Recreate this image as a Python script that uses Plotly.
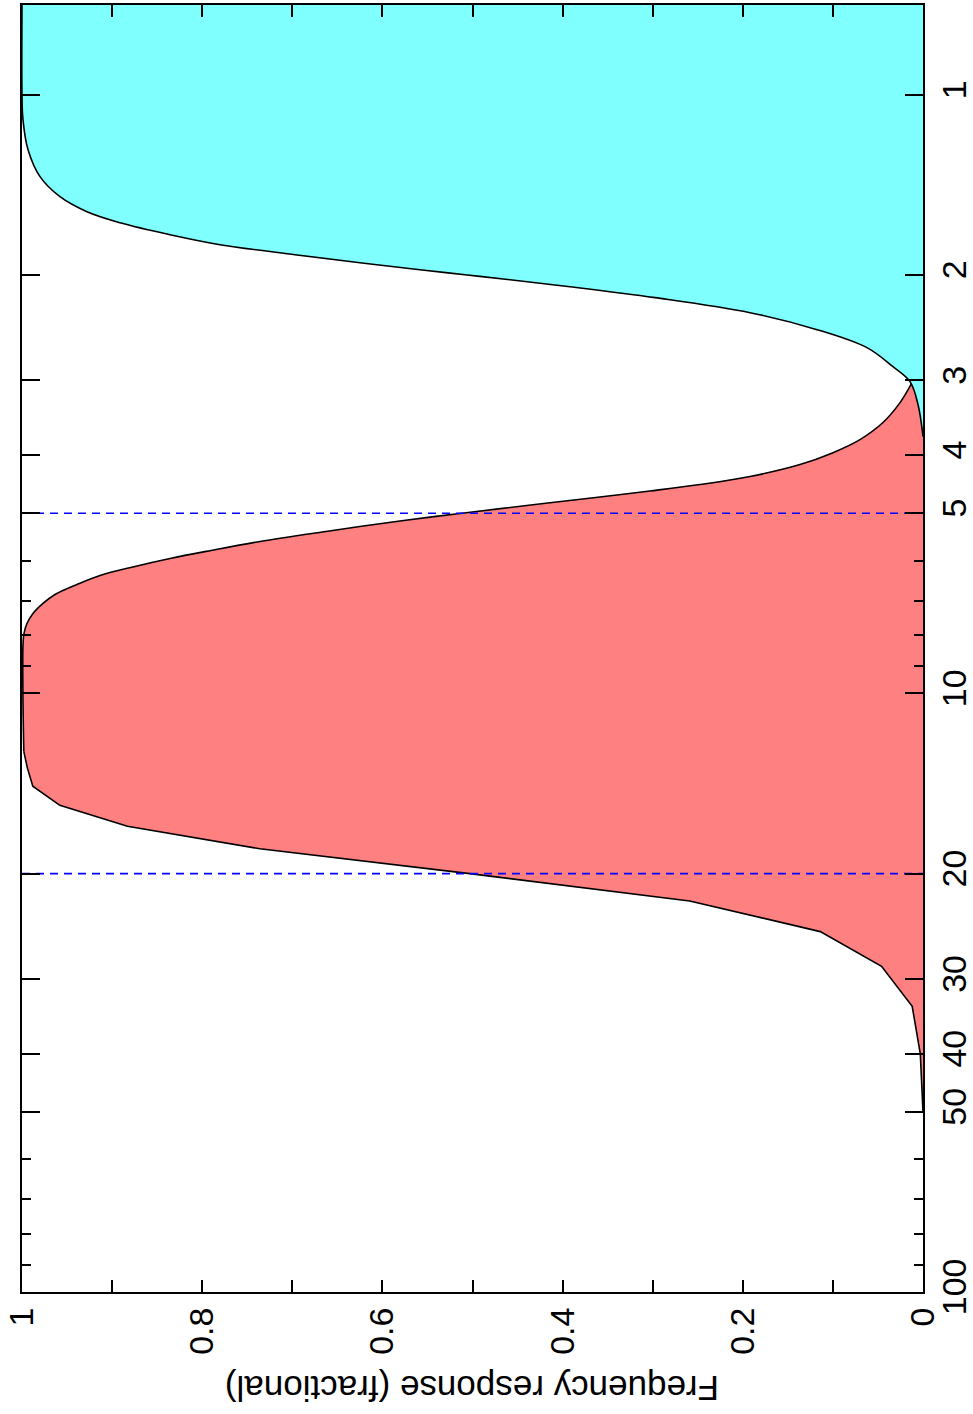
import plotly.graph_objects as go

# ---- data ----
period_ticks = [1, 2, 3, 4, 5, 10, 20, 30, 40, 50, 100]
period_tick_labels = ["1", "2", "3", "4", "5", "10", "20", "30", "40", "50", "100"]
period_minor_ticks = [6, 7, 8, 9, 60, 70, 80, 90]

resp_ticks = [0, 0.1, 0.2, 0.3, 0.4, 0.5, 0.6, 0.7, 0.8, 0.9, 1.0]
resp_tick_labels = ["0", "", "0.2", "", "0.4", "", "0.6", "", "0.8", "", "1"]

# high-pass (cyan) response vs period
highpass_period = [0.707, 1.0, 1.101, 1.235, 1.370, 1.480, 1.568, 1.636, 1.713, 1.780,
                   1.850, 1.908, 1.960, 1.998, 2.037, 2.092, 2.182, 2.312, 2.468, 2.645,
                   2.846, 3.014, 3.293, 3.724]
highpass_resp = [1.0, 1.0, 0.9989, 0.9933, 0.980, 0.9578, 0.9279, 0.8912, 0.8357, 0.7803,
                 0.697, 0.6249, 0.5583, 0.5083, 0.4584, 0.3918, 0.2974, 0.192, 0.1176,
                 0.0622, 0.0333, 0.0144, 0.0055, 0.0]

# band-pass (red) response vs period: smooth upper part ...
bandpass_upper_period = [3.026, 3.268, 3.528, 3.767, 3.961, 4.147, 4.342, 4.478, 4.591,
                         4.698, 4.836, 4.996, 5.152, 5.364, 5.574, 5.770, 5.951, 6.137,
                         6.353, 6.577, 6.835, 7.075, 7.355, 7.644, 7.943, 8.286, 9.96,
                         12.5]
bandpass_upper_resp = [0.0122, 0.0255, 0.0444, 0.0699, 0.0999, 0.1365, 0.192, 0.2475,
                       0.303, 0.3585, 0.4306, 0.5094, 0.5805, 0.6626, 0.7358, 0.7902,
                       0.8357, 0.8746, 0.9134, 0.939, 0.9634, 0.9767, 0.9878, 0.9945,
                       0.9978, 0.9989, 0.999, 0.998]
# ... and coarsely sampled long-period part
bandpass_lower_period = [12.5, 13.33, 14.29, 15.38, 16.67, 18.18, 20.0, 22.22, 25.0,
                         28.57, 33.33, 40.0, 50.0]
bandpass_lower_resp = [0.998, 0.994, 0.988, 0.958, 0.883, 0.736, 0.503, 0.259, 0.114,
                       0.046, 0.012, 0.003, 0.0]

cutoff_periods = [5, 20]
cutoff_span = [1.0, 0.0]

axis_title = "Frequency response (fractional)"

FONT = "Liberation Sans, Arial, Helvetica, sans-serif"

bandpass_period = bandpass_upper_period + bandpass_lower_period[1:]
bandpass_resp = bandpass_upper_resp + bandpass_lower_resp[1:]

fig = go.Figure()

# red band-pass fill
fig.add_trace(go.Scatter(
    x=bandpass_resp, y=bandpass_period, mode="lines",
    line=dict(color="rgba(0,0,0,0)", width=0),
    fill="tozerox", fillcolor="rgb(255,128,128)",
    showlegend=False, hoverinfo="skip"))
fig.add_trace(go.Scatter(
    x=bandpass_upper_resp, y=bandpass_upper_period, mode="lines",
    line=dict(color="black", width=1.6, shape="spline", smoothing=1.0),
    showlegend=False, hoverinfo="skip"))
fig.add_trace(go.Scatter(
    x=bandpass_lower_resp, y=bandpass_lower_period, mode="lines",
    line=dict(color="black", width=1.6),
    showlegend=False, hoverinfo="skip"))

# cyan high-pass
fig.add_trace(go.Scatter(
    x=highpass_resp, y=highpass_period, mode="lines",
    line=dict(color="black", width=1.6, shape="spline", smoothing=1.0),
    fill="tozerox", fillcolor="rgb(128,255,255)",
    showlegend=False, hoverinfo="skip"))

for p in cutoff_periods:
    fig.add_trace(go.Scatter(
        x=cutoff_span, y=[p, p], mode="lines",
        line=dict(color="rgb(0,0,255)", width=1.6, dash="8px,6px"),
        showlegend=False, hoverinfo="skip"))

fig.update_xaxes(
    range=[1, 0], tickmode="array", tickvals=resp_ticks, ticktext=resp_tick_labels,
    ticks="inside", ticklen=12, tickwidth=1.5, tickcolor="black",
    tickangle=-90, tickfont=dict(family=FONT, size=34, color="black"),
    showline=True, linecolor="black", linewidth=2, mirror="allticks",
    showgrid=False, zeroline=False, automargin=False)

fig.update_yaxes(
    type="log", range=[2, -0.15], side="right",
    tickmode="array", tickvals=period_ticks, ticktext=period_tick_labels,
    ticks="inside", ticklen=18, tickwidth=1.5, tickcolor="black",
    tickangle=-90, tickfont=dict(family=FONT, size=34, color="black"),
    minor=dict(tickmode="array", tickvals=period_minor_ticks, ticks="inside",
               ticklen=9, tickwidth=1.5, tickcolor="black", showgrid=False),
    showline=True, linecolor="black", linewidth=2, mirror="allticks",
    showgrid=False, zeroline=False, automargin=False)

fig.add_annotation(
    text=axis_title, textangle=180, xref="paper", yref="paper",
    x=0.5, y=-0.0745, xanchor="center", yanchor="middle", showarrow=False,
    font=dict(family=FONT, size=35, color="black"))

fig.update_layout(
    width=973, height=1414,
    margin=dict(l=22, r=50, t=5, b=122, autoexpand=False),
    paper_bgcolor="white", plot_bgcolor="white",
    font=dict(family=FONT, size=34, color="black"))

fig.write_html("out.html",
               config={"displayModeBar": False},
               post_script="document.body.style.margin='0px';"
                           "document.body.style.overflow='hidden';")
